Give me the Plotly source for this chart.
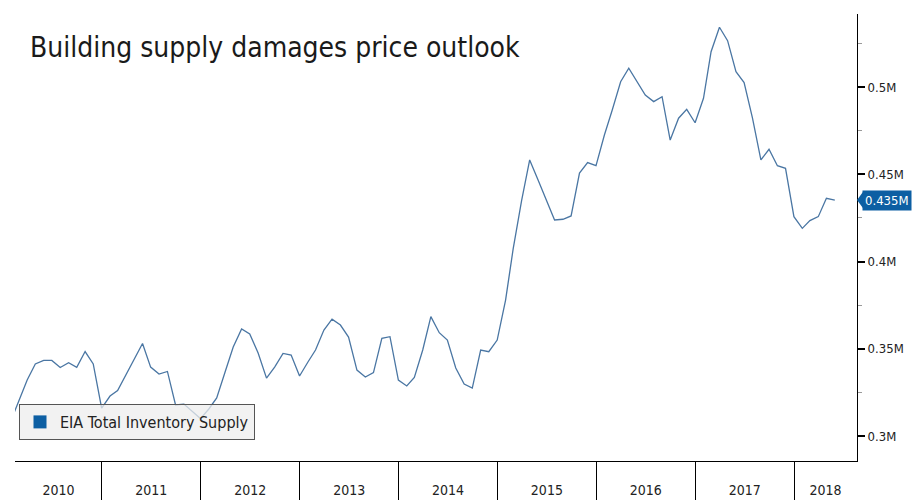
import plotly.graph_objects as go
import pandas as pd

# ---- data (monthly, month-end) ----
start_month = "2010-01-31"
values = [
    309200, 320100, 332100, 341300, 343300, 343300, 339300, 342000, 339400, 348400, 341300, 316000,
    322900, 326100, 335000, 344100, 353000, 339500, 335500, 337000, 317800, 318300, 314300, 310000,
    315500, 321800, 336700, 351000, 361300, 358500, 347600, 333200, 339500, 347300, 346400, 334400,
    342400, 349300, 360700, 367000, 363600, 356700, 337800, 333800, 336300, 356000, 356900, 332100,
    328700, 333600, 349300, 368400, 359200, 355000, 339000, 329800, 327500, 349300, 348300, 355000,
    377900, 407200, 434700, 458200, 446700, 435200, 423800, 424200, 426100, 450700, 456700, 454900,
    472500, 486800, 503000, 510700, 503000, 495400, 491600, 494400, 469600, 482100, 487200, 479500,
    493500, 520200, 534200, 526500, 508800, 502500, 482100, 458200, 464300, 454900, 453400, 425700,
    419000, 423400, 425700, 436200, 435200,
]
dates = pd.date_range(start=start_month, periods=len(values), freq=pd.offsets.MonthEnd())

years = [2010, 2011, 2012, 2013, 2014, 2015, 2016, 2017, 2018]
y_tickvals = [300000, 350000, 400000, 450000, 500000]
y_ticktext = ["0.3M", "0.35M", "0.4M", "0.45M", "0.5M"]

title = "Building supply damages price outlook"
series_name = "EIA Total Inventory Supply"

x_range = [pd.Timestamp("2010-02-14"), pd.Timestamp("2018-08-21")]
y_range = [285700, 541800]

FONT = "DejaVu Sans Condensed, DejaVu Sans, sans-serif"
LINE = "#4a76a3"
BLUE = "#0d5fa3"

# year label positions: centre of the visible part of each year
lab_pos = []
for yr in years:
    a = max(pd.Timestamp(f"{yr}-01-01"), x_range[0])
    b = min(pd.Timestamp(f"{yr + 1}-01-01"), x_range[1])
    lab_pos.append(a + (b - a) / 2)

fig = go.Figure()
fig.add_trace(go.Scatter(
    x=dates, y=values, mode="lines", line=dict(color=LINE, width=1.3),
    showlegend=False, name=series_name,
))
fig.add_trace(go.Scatter(
    x=[None], y=[None], mode="markers", name=series_name,
    marker=dict(symbol="square", size=13, color=BLUE),
))

last = values[-1]
fig.add_annotation(
    x=1, xref="paper", y=last, yref="y", xanchor="left", yanchor="middle",
    xshift=5, text=f"{last / 1e6:.3f}M", showarrow=False,
    font=dict(family=FONT, size=13, color="white"),
    bgcolor=BLUE, borderpad=2,
)
fig.add_shape(
    type="path", xref="paper", yref="y",
    path=(f"M 1.0,{last} L 1.0075,{last + 4900} L 1.0075,{last - 4900} Z"),
    fillcolor=BLUE, line=dict(width=0),
)

fig.update_layout(
    width=913, height=500,
    margin=dict(l=15, r=56, t=14, b=39, autoexpand=False),
    paper_bgcolor="white", plot_bgcolor="white",
    font=dict(family=FONT, color="#222222"),
    title=dict(
        text=title, xref="container", yref="container",
        x=30 / 913, y=1 - 47 / 500, xanchor="left", yanchor="middle",
        font=dict(family=FONT, size=28, color="#1a1a1a"),
    ),
    legend=dict(
        x=(19 - 15) / 842, y=(461 - 404) / 447, xanchor="left", yanchor="top",
        bgcolor="rgba(238,238,238,0.75)", bordercolor="#555555", borderwidth=1,
        font=dict(family=FONT, size=16, color="#222222"),
        itemwidth=30,
    ),
    xaxis=dict(
        range=x_range, showgrid=False, zeroline=False, automargin=False,
        showline=True, linecolor="black", linewidth=1,
        tickmode="array", tickvals=lab_pos, ticktext=[str(y) for y in years],
        ticks="outside", ticklen=16, tickcolor="rgba(0,0,0,0)",
        tickfont=dict(family=FONT, size=14, color="#222222"),
        minor=dict(ticks="outside", tick0="2010-01-01", dtick="M12",
                   ticklen=40, tickcolor="black", tickwidth=1, showgrid=False),
    ),
    yaxis=dict(
        range=y_range, side="right", showgrid=False, zeroline=False, automargin=False,
        showline=True, linecolor="black", linewidth=1,
        tickmode="array", tickvals=y_tickvals, ticktext=y_ticktext,
        ticks="outside", ticklen=7, tickwidth=2, tickcolor="black",
        tickfont=dict(family=FONT, size=13, color="#222222"),
        minor=dict(ticks="outside", tick0=0, dtick=25000, ticklen=4,
                   tickcolor="#9a9a9a", tickwidth=1, showgrid=False),
    ),
)

fig.write_html("out.html")
